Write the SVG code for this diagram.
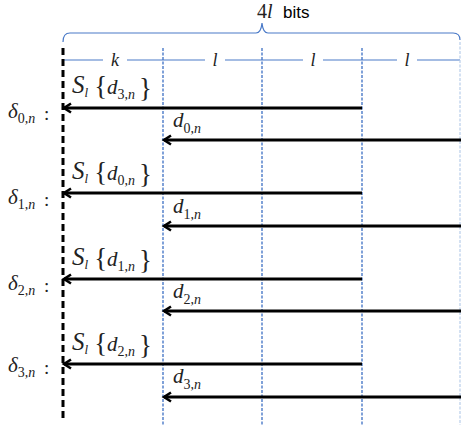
<svg xmlns="http://www.w3.org/2000/svg" width="461" height="430" viewBox="0 0 461 430">
<defs>
<marker id="ah" markerWidth="12" markerHeight="12" refX="9" refY="6" orient="auto" markerUnits="userSpaceOnUse">
<path d="M2,1.5 L9,6 L2,10.5" fill="none" stroke="#000" stroke-width="2.6"/>
</marker>
<style>
.m{font-family:"Liberation Serif",serif;font-style:italic;fill:#222}
.u{font-style:normal}
.s{font-family:"Liberation Sans",sans-serif;fill:#000}
.bl{stroke:#4a7ac8;fill:none;stroke-width:1.2}
.vd{stroke:#4a7ac8;stroke-width:1.4;stroke-dasharray:3 1.5}
.ar{stroke:#000;stroke-width:3;marker-end:url(#ah)}
</style>
</defs>
<g id="header">
<path class="bl" d="M63,42 Q63,33 70,33 L256,33 Q261,33 262,23 Q263,33 268,33 L453,33 Q460,33 460,40"/>
<text class="m" x="257" y="18" font-size="20"><tspan class="u">4</tspan>l</text>
<text class="s" x="283" y="18" font-size="17">bits</text>
<path class="bl" d="M63,60 H103 M127,60 H205 M225,60 H303 M323,60 H397 M417,60 H460"/>
<text class="m" x="115" y="66" font-size="18" text-anchor="middle">k</text>
<text class="m" x="215" y="66" font-size="18" text-anchor="middle">l</text>
<text class="m" x="313" y="66" font-size="18" text-anchor="middle">l</text>
<text class="m" x="407" y="66" font-size="18" text-anchor="middle">l</text>
</g>
<g id="grid">
<line class="vd" x1="163" y1="48" x2="163" y2="425"/>
<line class="vd" x1="262" y1="48" x2="262" y2="425"/>
<line class="vd" x1="362" y1="48" x2="362" y2="425"/>
<line x1="460" y1="42" x2="460" y2="425" stroke="#b8cdea" stroke-width="1.2" stroke-dasharray="3 1.5"/>
<line x1="63" y1="48" x2="63" y2="422" stroke="#000" stroke-width="3" stroke-dasharray="7 4"/>
</g>
<g id="connectors">
<line class="ar" x1="362" y1="108" x2="64" y2="108"/>
<line class="ar" x1="461" y1="140" x2="164" y2="140"/>
<line class="ar" x1="362" y1="193" x2="64" y2="193"/>
<line class="ar" x1="461" y1="226" x2="164" y2="226"/>
<line class="ar" x1="362" y1="279" x2="64" y2="279"/>
<line class="ar" x1="461" y1="311" x2="164" y2="311"/>
<line class="ar" x1="362" y1="364" x2="64" y2="364"/>
<line class="ar" x1="461" y1="397" x2="164" y2="397"/>
</g>
<g id="row0">
<text class="m" x="8" y="118" font-size="21">δ<tspan class="u" font-size="14" dy="5">0,</tspan><tspan font-size="14">n</tspan></text>
<text class="m u" x="44" y="120" font-size="19">:</text>
<text class="m" x="72" y="93" font-size="25">S<tspan font-size="13" dy="4">l</tspan><tspan class="u" font-size="27" dx="6" dy="-2">{</tspan><tspan font-size="21" dy="-1">d</tspan><tspan class="u" font-size="14" dy="5">3,</tspan><tspan font-size="14">n</tspan><tspan class="u" font-size="27" dx="4" dy="-2">}</tspan></text>
<text class="m" x="173" y="127" font-size="21">d<tspan class="u" font-size="14" dy="6">0,</tspan><tspan font-size="14">n</tspan></text>
</g>
<g id="row1">
<text class="m" x="8" y="204" font-size="21">δ<tspan class="u" font-size="14" dy="5">1,</tspan><tspan font-size="14">n</tspan></text>
<text class="m u" x="44" y="206" font-size="19">:</text>
<text class="m" x="72" y="179" font-size="25">S<tspan font-size="13" dy="4">l</tspan><tspan class="u" font-size="27" dx="6" dy="-2">{</tspan><tspan font-size="21" dy="-1">d</tspan><tspan class="u" font-size="14" dy="5">0,</tspan><tspan font-size="14">n</tspan><tspan class="u" font-size="27" dx="4" dy="-2">}</tspan></text>
<text class="m" x="173" y="213" font-size="21">d<tspan class="u" font-size="14" dy="6">1,</tspan><tspan font-size="14">n</tspan></text>
</g>
<g id="row2">
<text class="m" x="8" y="290" font-size="21">δ<tspan class="u" font-size="14" dy="5">2,</tspan><tspan font-size="14">n</tspan></text>
<text class="m u" x="44" y="292" font-size="19">:</text>
<text class="m" x="72" y="265" font-size="25">S<tspan font-size="13" dy="4">l</tspan><tspan class="u" font-size="27" dx="6" dy="-2">{</tspan><tspan font-size="21" dy="-1">d</tspan><tspan class="u" font-size="14" dy="5">1,</tspan><tspan font-size="14">n</tspan><tspan class="u" font-size="27" dx="4" dy="-2">}</tspan></text>
<text class="m" x="173" y="298" font-size="21">d<tspan class="u" font-size="14" dy="6">2,</tspan><tspan font-size="14">n</tspan></text>
</g>
<g id="row3">
<text class="m" x="8" y="372" font-size="21">δ<tspan class="u" font-size="14" dy="5">3,</tspan><tspan font-size="14">n</tspan></text>
<text class="m u" x="44" y="374" font-size="19">:</text>
<text class="m" x="72" y="350" font-size="25">S<tspan font-size="13" dy="4">l</tspan><tspan class="u" font-size="27" dx="6" dy="-2">{</tspan><tspan font-size="21" dy="-1">d</tspan><tspan class="u" font-size="14" dy="5">2,</tspan><tspan font-size="14">n</tspan><tspan class="u" font-size="27" dx="4" dy="-2">}</tspan></text>
<text class="m" x="173" y="383" font-size="21">d<tspan class="u" font-size="14" dy="6">3,</tspan><tspan font-size="14">n</tspan></text>
</g>
</svg>
